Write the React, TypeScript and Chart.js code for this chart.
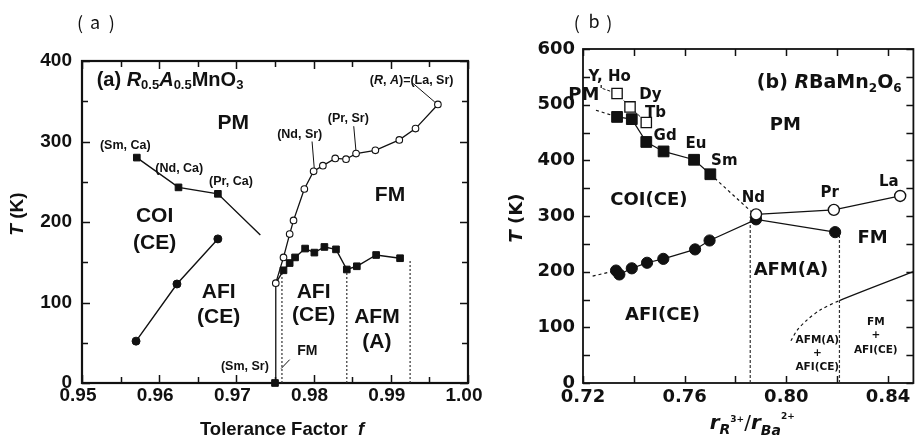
import React, { useEffect, useRef } from 'react';
import { Chart, registerables } from 'chart.js';

Chart.register(...registerables);

type P = [number, number];

// ===================== Panel (a): R0.5A0.5MnO3 =====================
const aXTickLabels = ['0.95', '0.96', '0.97', '0.98', '0.99', '1.00'];
const aYTickLabels = ['0', '100', '200', '300', '400'];

// (R, Ca): charge-order transition (filled squares); last entry is the end of the line
const caChargeOrder: P[] = [[0.9571, 280], [0.9625, 243], [0.9676, 235], [0.9731, 184]];
// (R, Ca): Neel temperature (filled circles)
const caNeel: P[] = [[0.957, 52], [0.9623, 123], [0.9676, 179]];
// (R, Sr): Curie temperature (open circles)
const srCurie: P[] = [
  [0.9751, 124], [0.9761, 156], [0.9769, 185], [0.9774, 202], [0.9788, 241], [0.98, 263], [0.9812, 270],
  [0.9828, 279], [0.9842, 278], [0.9855, 285], [0.988, 289], [0.9911, 302], [0.9932, 316], [0.9961, 346],
];
// (R, Sr): Neel temperature (filled squares); first entry is the junction with the FM line
const srNeel: P[] = [
  [0.9751, 124], [0.9761, 140], [0.9769, 149], [0.9776, 156], [0.9789, 167], [0.9801, 162], [0.9814, 169],
  [0.9829, 166], [0.9843, 141], [0.9856, 145], [0.9881, 159], [0.9912, 155],
];
// (Sm, Sr)
const smSr: P[] = [[0.975, 0], [0.9751, 124]];
// dotted phase boundaries
const aBoundary1: P[] = [[0.9759, 0], [0.9759, 140]];
const aBoundary2: P[] = [[0.9843, 0], [0.9843, 141]];
const aBoundary3: P[] = [[0.9925, 0], [0.9925, 154]];
// leader lines to the compound labels
const aLeaderNdSr: P[] = [[0.9798, 300], [0.9801, 265]];
const aLeaderPrSr: P[] = [[0.9852, 319], [0.9855, 287]];
const aLeaderLaSr: P[] = [[0.9929, 372], [0.9957, 349]];
const aLeaderFM: P[] = [[0.9758, 18], [0.9769, 29]];

type Label = { text: string; x: number; y: number };
const aRegionLabels: Label[] = [
  { text: 'PM', x: 0.9696, y: 323 },
  { text: 'FM', x: 0.9899, y: 233 },
  { text: 'COI', x: 0.9594, y: 207 },
  { text: '(CE)', x: 0.9594, y: 174 },
  { text: 'AFI', x: 0.9677, y: 113 },
  { text: '(CE)', x: 0.9677, y: 82 },
  { text: 'AFI', x: 0.98, y: 113 },
  { text: '(CE)', x: 0.98, y: 84 },
  { text: 'AFM', x: 0.9882, y: 82 },
  { text: '(A)', x: 0.9882, y: 51 },
];
const aCompoundLabels: Label[] = [
  { text: '(Sm, Ca)', x: 0.9556, y: 295 },
  { text: '(Nd, Ca)', x: 0.9626, y: 267 },
  { text: '(Pr, Ca)', x: 0.9693, y: 250 },
  { text: '(Sm, Sr)', x: 0.9711, y: 21 },
  { text: '(Nd, Sr)', x: 0.9782, y: 309 },
  { text: '(Pr, Sr)', x: 0.9845, y: 328 },
];
const aSmallFM: Label = { text: 'FM', x: 0.9792, y: 39 };
const aLaSrLabel = { x: 0.9927, y: 376 };
const aTitlePos = { x: 0.9519, y: 376 };

// ===================== Panel (b): RBaMn2O6 =====================
const bXTickLabels = ['0.72', '0.76', '0.80', '0.84'];
const bYTickLabels = ['0', '100', '200', '300', '400', '500', '600'];

// T_CO (filled squares); first and last entries are ends of the dashed extensions
const bChargeOrder: P[] = [
  [0.7251, 490], [0.7334, 478], [0.7392, 474], [0.7449, 433], [0.7517, 416], [0.7637, 401], [0.7701, 375], [0.7881, 300],
];
// PM' transition (open squares); first entry is the start of the dashed line
const bPMprime: P[] = [[0.7277, 529], [0.7334, 520], [0.7385, 496], [0.7449, 468]];
// T_N (filled circles); first entry is the start of the dashed extension
const bNeel: P[] = [
  [0.7238, 192], [0.733, 202], [0.7343, 195], [0.7392, 206], [0.7452, 216], [0.7516, 223], [0.7641, 240],
  [0.7698, 256], [0.7881, 294], [0.8192, 271],
];
// T_C (open circles)
const bCurie: P[] = [[0.7881, 303], [0.8187, 311], [0.8448, 336]];
// dashed vertical boundaries
const bBoundary1: P[] = [[0.7858, 0], [0.7858, 299]];
const bBoundary2: P[] = [[0.8209, 0], [0.8209, 271]];
// mixed-phase boundary (dashed curve, then solid)
const bMixed: P[] = [[0.8018, 76], [0.8043, 95], [0.8081, 113], [0.8133, 131], [0.8209, 148], [0.85, 200]];

const bRegionLabels: Label[] = [
  { text: 'PM', x: 0.7996, y: 462 },
  { text: 'COI(CE)', x: 0.7459, y: 329 },
  { text: 'FM', x: 0.8339, y: 260 },
  { text: 'AFM(A)', x: 0.8018, y: 203 },
  { text: 'AFI(CE)', x: 0.7513, y: 122 },
];
const bElementLabels: Label[] = [
  { text: 'Nd', x: 0.787, y: 332 },
  { text: 'Pr', x: 0.8171, y: 342 },
  { text: 'La', x: 0.8403, y: 360 },
  { text: 'Y, Ho', x: 0.7305, y: 549 },
  { text: 'Dy', x: 0.7465, y: 517 },
  { text: 'Tb', x: 0.7485, y: 485 },
  { text: 'Gd', x: 0.7523, y: 444 },
  { text: 'Eu', x: 0.7644, y: 429 },
  { text: 'Sm', x: 0.7756, y: 398 },
];
const bSmallLabels: Label[] = [
  { text: 'AFM(A)', x: 0.8122, y: 76 },
  { text: '+', x: 0.8122, y: 54 },
  { text: 'AFI(CE)', x: 0.8122, y: 28 },
  { text: 'FM', x: 0.8352, y: 110 },
  { text: '+', x: 0.8352, y: 86 },
  { text: 'AFI(CE)', x: 0.8352, y: 59 },
];
const bPMprimePos = { x: 0.721, y: 516 };
const bTitlePos = { x: 0.7884, y: 538 };

// ===================== helpers =====================
const FONT_A = '"Liberation Sans", Arial, Helvetica, sans-serif';
const FONT_B = '"DejaVu Sans", Verdana, sans-serif';
const INK = '#111';

type Part = { t: string; size: number; italic?: boolean; dy?: number; weight?: string };

function drawParts(ctx: any, parts: Part[], family: string, x: number, y: number, align: 'left' | 'center') {
  const fontOf = (p: Part) => `${p.italic ? 'italic ' : ''}${p.weight || 'bold'} ${p.size}px ${family}`;
  let total = 0;
  const ws = parts.map((p) => {
    ctx.font = fontOf(p);
    const w = ctx.measureText(p.t).width;
    total += w;
    return w;
  });
  let cx = align === 'center' ? x - total / 2 : x;
  ctx.textAlign = 'left';
  parts.forEach((p, i) => {
    ctx.font = fontOf(p);
    ctx.fillText(p.t, cx, y + (p.dy || 0));
    cx += ws[i];
  });
}

const pts = (a: P[]) => a.map(([x, y]) => ({ x, y }));

const labelFor = (list: string[], v: any) => {
  const n = Number(v);
  const hit = list.find((l) => Math.abs(parseFloat(l) - n) < 1e-6);
  return hit === undefined ? '' : hit;
};

function framePlugin(frameWidth: number, majorLen: number, minorLen: number) {
  return {
    id: 'frameTicks',
    beforeDatasetsDraw(chart: any) {
      const { ctx, chartArea: a, scales } = chart;
      const sx = scales.x;
      const sy = scales.y;
      ctx.save();
      ctx.strokeStyle = INK;
      ctx.lineWidth = 1.5;
      ctx.beginPath();
      sx.ticks.forEach((t: any) => {
        const px = Math.round(sx.getPixelForValue(t.value)) + 0.5;
        const len = t.label ? majorLen : minorLen;
        ctx.moveTo(px, a.bottom);
        ctx.lineTo(px, a.bottom - len);
        ctx.moveTo(px, a.top);
        ctx.lineTo(px, a.top + len);
      });
      sy.ticks.forEach((t: any) => {
        const py = Math.round(sy.getPixelForValue(t.value)) + 0.5;
        const len = t.label ? majorLen : minorLen;
        ctx.moveTo(a.left, py);
        ctx.lineTo(a.left + len, py);
        ctx.moveTo(a.right, py);
        ctx.lineTo(a.right - len, py);
      });
      ctx.stroke();
      ctx.lineWidth = frameWidth;
      ctx.strokeRect(a.left, a.top, a.right - a.left, a.bottom - a.top);
      ctx.restore();
    },
  };
}

const textPluginA = {
  id: 'textA',
  afterDatasetsDraw(chart: any) {
    const { ctx, chartArea: a, scales } = chart;
    const X = (v: number) => scales.x.getPixelForValue(v);
    const Y = (v: number) => scales.y.getPixelForValue(v);
    ctx.save();
    ctx.fillStyle = INK;
    ctx.textBaseline = 'middle';
    aRegionLabels.forEach((l) => drawParts(ctx, [{ t: l.text, size: 21 }], FONT_A, X(l.x), Y(l.y), 'center'));
    aCompoundLabels.forEach((l) => drawParts(ctx, [{ t: l.text, size: 12.5 }], FONT_A, X(l.x), Y(l.y), 'center'));
    drawParts(ctx, [{ t: aSmallFM.text, size: 14 }], FONT_A, X(aSmallFM.x), Y(aSmallFM.y), 'center');
    drawParts(
      ctx,
      [{ t: '(', size: 12.5 }, { t: 'R', size: 12.5, italic: true }, { t: ', ', size: 12.5 }, { t: 'A', size: 12.5, italic: true }, { t: ')=(La, Sr)', size: 12.5 }],
      FONT_A, X(aLaSrLabel.x), Y(aLaSrLabel.y), 'center'
    );
    drawParts(
      ctx,
      [
        { t: '(a) ', size: 20 },
        { t: 'R', size: 20, italic: true },
        { t: '0.5', size: 13, dy: 5 },
        { t: 'A', size: 20, italic: true },
        { t: '0.5', size: 13, dy: 5 },
        { t: 'MnO', size: 20 },
        { t: '3', size: 13, dy: 5 },
      ],
      FONT_A, X(aTitlePos.x), Y(aTitlePos.y), 'left'
    );
    // axis titles
    drawParts(ctx, [{ t: 'Tolerance Factor  ', size: 18.5 }, { t: 'f', size: 18.5, italic: true }], FONT_A, (a.left + a.right) / 2 + 7, a.bottom + 47, 'center');
    ctx.save();
    ctx.translate(a.left - 64, (a.top + a.bottom) / 2 - 8);
    ctx.rotate(-Math.PI / 2);
    drawParts(ctx, [{ t: 'T', size: 19, italic: true }, { t: ' (K)', size: 19 }], FONT_A, 0, 0, 'center');
    ctx.restore();
    // panel header
    ctx.font = `normal 18px "Noto Sans CJK JP", "DejaVu Sans", sans-serif`;
    ctx.textAlign = 'center';
    ctx.fillText('(', 80, 23);
    ctx.fillText('a', 95, 22);
    ctx.fillText(')', 111.7, 23);
    ctx.restore();
  },
};

const textPluginB = {
  id: 'textB',
  afterDatasetsDraw(chart: any) {
    const { ctx, chartArea: a, scales } = chart;
    const X = (v: number) => scales.x.getPixelForValue(v);
    const Y = (v: number) => scales.y.getPixelForValue(v);
    ctx.save();
    ctx.fillStyle = INK;
    ctx.textBaseline = 'middle';
    bRegionLabels.forEach((l) => drawParts(ctx, [{ t: l.text, size: 18 }], FONT_B, X(l.x), Y(l.y), 'center'));
    bElementLabels.forEach((l) => drawParts(ctx, [{ t: l.text, size: 15 }], FONT_B, X(l.x), Y(l.y), 'center'));
    bSmallLabels.forEach((l) => drawParts(ctx, [{ t: l.text, size: 10.5 }], FONT_B, X(l.x), Y(l.y), 'center'));
    drawParts(ctx, [{ t: 'PM', size: 18 }, { t: "'", size: 11, dy: -6 }], FONT_B, X(bPMprimePos.x), Y(bPMprimePos.y), 'center');
    drawParts(
      ctx,
      [
        { t: '(b) ', size: 19 },
        { t: 'R', size: 19, italic: true },
        { t: 'BaMn', size: 19 },
        { t: '2', size: 12, dy: 5 },
        { t: 'O', size: 19 },
        { t: '6', size: 12, dy: 5 },
      ],
      FONT_B, X(bTitlePos.x), Y(bTitlePos.y), 'left'
    );
    // x-axis title r_{R3+}/r_{Ba2+}
    ctx.textBaseline = 'alphabetic';
    drawParts(
      ctx,
      [
        { t: 'r', size: 20, italic: true },
        { t: 'R', size: 14, italic: true, dy: 5 },
        { t: '3+', size: 9, dy: -7 },
        { t: '/', size: 20, weight: 'normal' },
        { t: 'r', size: 20, italic: true },
        { t: 'Ba', size: 14, italic: true, dy: 6 },
        { t: '2+', size: 9, dy: -10 },
      ],
      FONT_B, (a.left + a.right) / 2 + 4, a.bottom + 46, 'center'
    );
    ctx.textBaseline = 'middle';
    ctx.save();
    ctx.translate(a.left - 66, (a.top + a.bottom) / 2 + 2);
    ctx.rotate(-Math.PI / 2);
    drawParts(ctx, [{ t: 'T', size: 18, italic: true }, { t: ' (K)', size: 18 }], FONT_B, 0, 0, 'center');
    ctx.restore();
    // panel header
    ctx.font = `normal 18px "Noto Sans CJK JP", "DejaVu Sans", sans-serif`;
    ctx.textAlign = 'center';
    ctx.fillText('(', 86.7, 23);
    ctx.fillText('b', 104, 21);
    ctx.fillText(')', 119.3, 23);
    ctx.restore();
  },
};

const lineDs = (data: P[], extra: any = {}) => ({
  data: pts(data),
  showLine: true,
  borderColor: INK,
  backgroundColor: INK,
  borderWidth: 1.4,
  pointRadius: 0,
  pointBorderColor: INK,
  pointBackgroundColor: INK,
  pointBorderWidth: 1,
  clip: false,
  ...extra,
});

function configA(): any {
  const tickFont = { family: FONT_A, size: 19, weight: 'bold' };
  return {
    type: 'scatter',
    data: {
      datasets: [
        lineDs(srCurie, { pointRadius: 3.3, pointStyle: 'circle', pointBackgroundColor: '#fff', pointBorderWidth: 1.1, borderWidth: 1.3 }),
        lineDs(srNeel, { pointRadius: srNeel.map((_, i) => (i === 0 ? 0 : 4.7)), pointStyle: 'rect' }),
        lineDs(smSr, { pointRadius: [4.7, 0], pointStyle: 'rect', borderWidth: 1.3 }),
        lineDs(caChargeOrder, { pointRadius: caChargeOrder.map((_, i) => (i === caChargeOrder.length - 1 ? 0 : 4.7)), pointStyle: 'rect' }),
        lineDs(caNeel, { pointRadius: 4, pointStyle: 'circle' }),
        lineDs(aBoundary1, { borderDash: [2, 2], borderWidth: 1.2, borderColor: '#333' }),
        lineDs(aBoundary2, { borderDash: [2, 2], borderWidth: 1.2, borderColor: '#333' }),
        lineDs(aBoundary3, { borderDash: [2, 2], borderWidth: 1.2, borderColor: '#333' }),
        lineDs(aLeaderNdSr, { borderWidth: 1 }),
        lineDs(aLeaderPrSr, { borderWidth: 1 }),
        lineDs(aLeaderLaSr, { borderWidth: 1 }),
        lineDs(aLeaderFM, { borderWidth: 1 }),
      ],
    },
    options: {
      animation: false,
      responsive: false,
      devicePixelRatio: 1,
      events: [],
      layout: { padding: { left: 0, top: 61, right: 22, bottom: 0 } },
      plugins: { legend: { display: false }, tooltip: { enabled: false } },
      scales: {
        x: {
          type: 'linear',
          min: 0.95,
          max: 1.0,
          afterFit: (s: any) => { s.height = 58; },
          grid: { display: false, drawTicks: false },
          border: { display: false },
          ticks: {
            stepSize: 0.005,
            autoSkip: false,
            maxRotation: 0,
            minRotation: 0,
            padding: 1,
            labelOffset: -4,
            color: INK,
            font: tickFont,
            callback: (v: any) => labelFor(aXTickLabels, v),
          },
        },
        y: {
          type: 'linear',
          min: 0,
          max: 400,
          afterFit: (s: any) => { s.width = 82; },
          grid: { display: false, drawTicks: false },
          border: { display: false },
          ticks: {
            stepSize: 50,
            autoSkip: false,
            padding: 10,
            color: INK,
            font: tickFont,
            callback: (v: any) => labelFor(aYTickLabels, v),
          },
        },
      },
    },
    plugins: [framePlugin(2.2, 8, 6), textPluginA],
  };
}

function configB(): any {
  const tickFont = { family: FONT_B, size: 18, weight: 'bold' };
  const dashEnds = (n: number) => (c: any) => (c.p0DataIndex === 0 || c.p0DataIndex === n - 2 ? [3, 3] : undefined);
  return {
    type: 'scatter',
    data: {
      datasets: [
        lineDs(bCurie, { pointRadius: 5.5, pointStyle: 'circle', pointBackgroundColor: '#fff', pointBorderWidth: 1.4, borderWidth: 1.2 }),
        lineDs(bNeel, {
          pointRadius: bNeel.map((_, i) => (i === 0 ? 0 : 5.6)),
          pointStyle: 'circle',
          borderWidth: 1.2,
          segment: { borderDash: (c: any) => (c.p0DataIndex === 0 ? [3, 3] : undefined) },
        }),
        lineDs(bChargeOrder, {
          pointRadius: bChargeOrder.map((_, i) => (i === 0 || i === bChargeOrder.length - 1 ? 0 : 7.6)),
          pointStyle: 'rect',
          borderWidth: 1.2,
          segment: { borderDash: dashEnds(bChargeOrder.length) },
        }),
        lineDs(bPMprime, {
          pointRadius: bPMprime.map((_, i) => (i === 0 ? 0 : 7.3)),
          pointStyle: 'rect',
          pointBackgroundColor: '#fff',
          pointBorderWidth: 1.3,
          borderWidth: 1,
          borderDash: [3, 2],
        }),
        lineDs(bBoundary1, { borderDash: [3, 2], borderWidth: 1.2, borderColor: '#333' }),
        lineDs(bBoundary2, { borderDash: [3, 2], borderWidth: 1.2, borderColor: '#333' }),
        lineDs(bMixed, {
          borderWidth: 1.2,
          tension: 0.3,
          segment: { borderDash: (c: any) => (c.p0DataIndex < bMixed.length - 2 ? [3, 3] : undefined) },
        }),
      ],
    },
    options: {
      animation: false,
      responsive: false,
      devicePixelRatio: 1,
      events: [],
      layout: { padding: { left: 0, top: 49, right: 0, bottom: 0 } },
      plugins: { legend: { display: false }, tooltip: { enabled: false } },
      scales: {
        x: {
          type: 'linear',
          min: 0.72,
          max: 0.85,
          afterFit: (s: any) => { s.height = 58; },
          grid: { display: false, drawTicks: false },
          border: { display: false },
          ticks: {
            stepSize: 0.02,
            includeBounds: false,
            autoSkip: false,
            maxRotation: 0,
            minRotation: 0,
            padding: 4,
            color: INK,
            font: tickFont,
            callback: (v: any) => labelFor(bXTickLabels, v),
          },
        },
        y: {
          type: 'linear',
          min: 0,
          max: 600,
          afterFit: (s: any) => { s.width = 93; },
          grid: { display: false, drawTicks: false },
          border: { display: false },
          ticks: {
            stepSize: 50,
            autoSkip: false,
            padding: 8,
            color: INK,
            font: tickFont,
            callback: (v: any) => labelFor(bYTickLabels, v),
          },
        },
      },
    },
    plugins: [framePlugin(1.8, 7, 7), textPluginB],
  };
}

export default function App() {
  const refA = useRef<HTMLCanvasElement>(null);
  const refB = useRef<HTMLCanvasElement>(null);
  useEffect(() => {
    const ca = new Chart(refA.current as HTMLCanvasElement, configA());
    const cb = new Chart(refB.current as HTMLCanvasElement, configB());
    return () => {
      ca.destroy();
      cb.destroy();
    };
  }, []);
  return (
    <div style={{ position: 'absolute', left: 0, top: 0, width: 921, height: 441, overflow: 'hidden', background: '#fff' }}>
      <canvas ref={refA} width={490} height={441} style={{ position: 'absolute', left: 0, top: 0, width: 490, height: 441 }} />
      <canvas ref={refB} width={432} height={441} style={{ position: 'absolute', left: 490, top: 0, width: 432, height: 441 }} />
    </div>
  );
}
